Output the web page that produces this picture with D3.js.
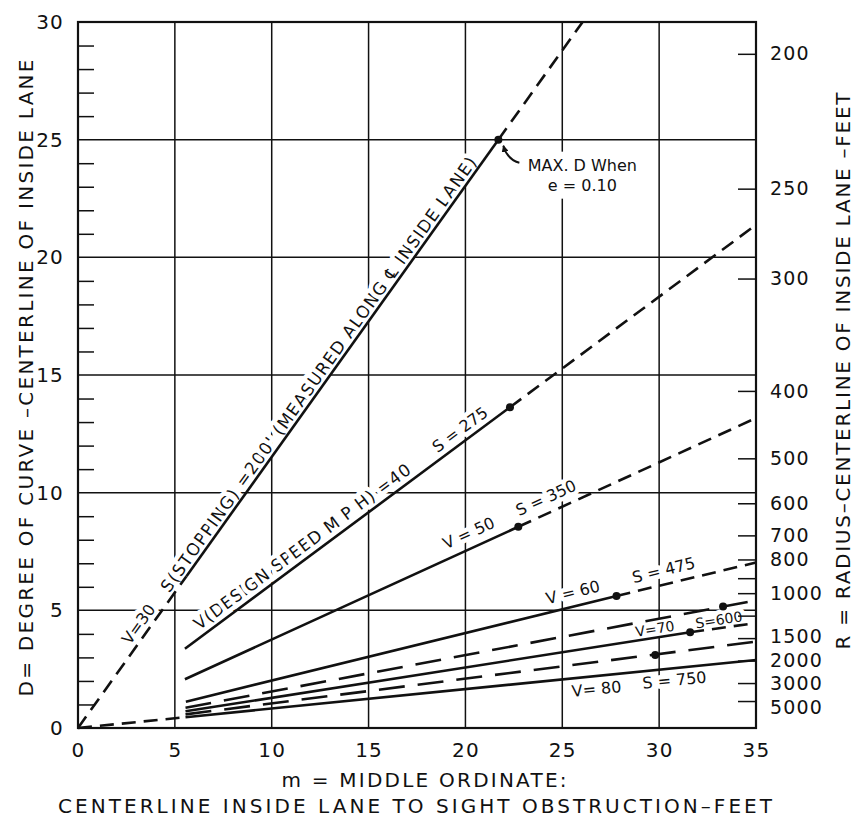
<!DOCTYPE html>
<html>
<head>
<meta charset="utf-8">
<script src="https://cdn.jsdelivr.net/npm/d3@7/dist/d3.min.js"></script>
<style>
  body { margin: 0; background: #fff; }
  svg { display: block; }
</style>
</head>
<body>
<script>
// axis values
const xTicks = [0, 5, 10, 15, 20, 25, 30, 35];
const yTicks = [0, 5, 10, 15, 20, 25, 30];
const yMinorTicks = [1, 2, 3, 4, 6, 7, 8, 9, 11, 12, 13, 14, 16, 17, 18, 19, 21, 22, 23, 24, 26, 27, 28, 29];
const radiusTicks = [200, 250, 300, 400, 500, 600, 700, 800, 900, 1000, 1200, 1500, 2000, 3000, 5000];
const radiusLabels = [200, 250, 300, 400, 500, 600, 700, 800, 1000, 1500, 2000, 3000, 5000];
const degreeRadiusConst = 5729.58; // D = 5729.58 / R

// curves, points are [m, D]
const solidSegments = [
  [[5.6, 6.45], [21.7, 25.0]],   // V=30  S=200
  [[5.52, 3.37], [22.3, 13.63]], // V=40  S=275
  [[5.52, 2.07], [22.73, 8.55]], // V=50  S=350
  [[5.57, 1.12], [27.8, 5.61]],  // V=60  S=475
  [[5.55, 0.71], [31.6, 4.07]],  // V=70  S=600
  [[5.55, 0.46], [35, 2.89]],    // V=80  S=750
];
const shortDashSegments = [
  [[0, 0], [5.6, 6.45]],
  [[21.7, 25.0], [26.05, 30]],
  [[22.3, 13.63], [35, 21.38]],
  [[22.73, 8.55], [35, 13.17]],
  [[27.8, 5.61], [35, 7.03]],
  [[31.6, 4.07], [35, 4.46]],
  [[0, 0], [5.3, 0.44]],
];
const longDashSegments = [
  [[5.55, 0.86], [35, 5.42]],
  [[5.55, 0.58], [35, 3.67]],
];
const maxDPoints = [[21.7, 25.0], [22.3, 13.63], [22.73, 8.55], [27.8, 5.61], [33.3, 5.16], [31.6, 4.07], [29.8, 3.1]];

// labels written along the curves
const labelTexts = [
  "V=30",
  "S(STOPPING) =200' (MEASURED ALONG \u2104 INSIDE LANE)",
  "V(DESIGN SPEED M P H) =40",
  "S = 275",
  "V = 50",
  "S = 350",
  "V = 60",
  "S = 475",
  "V=70",
  "S=600",
  "V= 80",
  "S = 750",
];
const labelAt = [[3.59, 4.14], [12.83, 14.78], [11.94, 7.3], [20.09, 12.27], [20.49, 7.7], [24.48, 9.2],
  [25.72, 5.19], [30.4, 6.13], [29.86, 3.8], [33.15, 4.22], [26.7, 2.21], [30.73, 2.54]];
const labelCurve = [0, 0, 1, 1, 2, 2, 3, 3, 4, 4, 5, 5];
const maxDNote = ["MAX. D When", "e = 0.10"];

// styling of the labels
const labelOffset = [11, 10, 12, 12, 15, 15, 14, 14, 10, 9, -13, -12];
const labelSize = [16, 17, 17, 16, 16, 16, 16, 16, 14, 14, 16, 16];
const labelLength = [null, 530, 265, null, null, null, null, null, null, null, null, null];
const radiusLabelNudge = { 1500: -2, 5000: 6 };

const W = 865, H = 825;
const margin = { top: 22, right: 109, bottom: 97, left: 78 };
const width = W - margin.left - margin.right;
const height = H - margin.top - margin.bottom;
const FONT = "'DejaVu Sans', 'Liberation Sans', sans-serif";
const INK = "#111";

const svg = d3.select("body").append("svg").attr("width", W).attr("height", H);
svg.append("rect").attr("width", W).attr("height", H).attr("fill", "#fff");

const g = svg.append("g").attr("transform", `translate(${margin.left},${margin.top})`);

const x = d3.scaleLinear().domain([0, 35]).range([0, width]);
const y = d3.scaleLinear().domain([0, 30]).range([height, 0]);
// right axis is linear in 1/R
const rInv = d3.scaleLinear().domain([0, 30 / degreeRadiusConst]).range([height, 0]);

// grid
g.append("g")
  .selectAll("line")
  .data(xTicks.filter((v) => v > 0 && v < 35))
  .join("line")
  .attr("x1", (d) => x(d)).attr("x2", (d) => x(d))
  .attr("y1", 0).attr("y2", height)
  .attr("stroke", INK).attr("stroke-width", 1.5);
g.append("g")
  .selectAll("line")
  .data(yTicks.filter((v) => v > 0 && v < 30))
  .join("line")
  .attr("x1", 0).attr("x2", width)
  .attr("y1", (d) => y(d)).attr("y2", (d) => y(d))
  .attr("stroke", INK).attr("stroke-width", 1.5);

const px = (p) => [x(p[0]), y(p[1])];
const angleOf = (seg) => {
  const a = px(seg[0]), b = px(seg[seg.length - 1]);
  return Math.atan2(b[1] - a[1], b[0] - a[0]);
};

// curve labels (white halo cuts the grid like the lettering did)
labelTexts.forEach((t, i) => {
  const ang = angleOf(solidSegments[labelCurve[i]]);
  const [cx, cy] = px(labelAt[i]);
  const off = labelOffset[i];
  const tx = cx + off * Math.sin(ang);
  const ty = cy - off * Math.cos(ang);
  const txt = g.append("text")
    .attr("transform", `translate(${tx},${ty}) rotate(${(ang * 180) / Math.PI})`)
    .attr("text-anchor", "middle")
    .attr("dominant-baseline", "central")
    .attr("font-family", FONT)
    .attr("font-size", labelSize[i])
    .attr("fill", INK)
    .attr("stroke", "#fff")
    .attr("stroke-width", 9)
    .attr("stroke-linejoin", "round")
    .attr("paint-order", "stroke")
    .text(t);
  if (labelLength[i]) txt.attr("textLength", labelLength[i]).attr("lengthAdjust", "spacing");
});

// MAX. D note beside the V=30 end point, on a white patch
const [mx, my] = px(maxDPoints[0]);
const note = g.append("g");
const notePatch = note.append("rect").attr("fill", "#fff");
note.selectAll("text")
  .data(maxDNote)
  .join("text")
  .attr("x", mx + 84)
  .attr("y", (d, i) => my + 31 + i * 20)
  .attr("text-anchor", "middle")
  .attr("font-family", FONT)
  .attr("font-size", 16)
  .attr("fill", INK)
  .text((d) => d);
const nb = note.node().getBBox();
notePatch
  .attr("x", nb.x - 4).attr("y", nb.y - 4)
  .attr("width", nb.width + 8).attr("height", nb.height + 8);

// curves
const line = d3.line().x((d) => x(d[0])).y((d) => y(d[1]));
g.append("g")
  .selectAll("path")
  .data(solidSegments)
  .join("path")
  .attr("d", line)
  .attr("fill", "none").attr("stroke", INK).attr("stroke-width", 2.6);
g.append("g")
  .selectAll("path")
  .data(shortDashSegments)
  .join("path")
  .attr("d", line)
  .attr("fill", "none").attr("stroke", INK).attr("stroke-width", 2.6)
  .attr("stroke-dasharray", "14,8");
g.append("g")
  .selectAll("path")
  .data(longDashSegments)
  .join("path")
  .attr("d", line)
  .attr("fill", "none").attr("stroke", INK).attr("stroke-width", 2.6)
  .attr("stroke-dasharray", "26,13");

g.append("g")
  .selectAll("circle")
  .data(maxDPoints)
  .join("circle")
  .attr("cx", (d) => x(d[0])).attr("cy", (d) => y(d[1]))
  .attr("r", 4).attr("fill", INK);

// little arrow from the note to the point
svg.append("defs").append("marker")
  .attr("id", "head").attr("viewBox", "0 0 10 10")
  .attr("refX", 9).attr("refY", 5)
  .attr("markerWidth", 7).attr("markerHeight", 7)
  .attr("markerUnits", "userSpaceOnUse")
  .attr("orient", "auto")
  .append("path").attr("d", "M0,0 L10,5 L0,10 z").attr("fill", INK);
g.append("path")
  .attr("d", `M${mx + 21},${my + 23} Q${mx + 9},${my + 20} ${mx + 5},${my + 6}`)
  .attr("fill", "none").attr("stroke", INK).attr("stroke-width", 2)
  .attr("marker-end", "url(#head)");

// frame
g.append("rect")
  .attr("width", width).attr("height", height)
  .attr("fill", "none").attr("stroke", INK).attr("stroke-width", 2.2);

// axes
const styleAxis = (sel) => {
  sel.attr("font-family", FONT).attr("font-size", 20).attr("color", INK);
  sel.select(".domain").remove();
  sel.selectAll(".tick line").attr("stroke-width", 1.5);
  sel.selectAll(".tick text").attr("letter-spacing", 1.2);
};

g.append("g")
  .attr("transform", `translate(0,${height})`)
  .call(d3.axisBottom(x).tickValues(xTicks).tickSize(0).tickPadding(15))
  .call(styleAxis);

g.append("g")
  .call(d3.axisLeft(y).tickValues(yTicks).tickSize(0).tickPadding(14))
  .call(styleAxis);

g.append("g")
  .call(d3.axisRight(y).tickValues(yMinorTicks).tickSize(16).tickFormat(""))
  .call(styleAxis);

g.append("g")
  .attr("transform", `translate(${width},0)`)
  .call(
    d3.axisRight(rInv)
      .tickValues(radiusTicks.map((r) => 1 / r))
      .tickSize(-18)
      .tickPadding(14)
      .tickFormat((v) => {
        const r = Math.round(1 / v);
        return radiusLabels.includes(r) ? r : "";
      }),
  )
  .call(styleAxis)
  .call((a) =>
    a.selectAll(".tick text")
      .attr("font-size", 19)
      .attr("y", (v) => radiusLabelNudge[Math.round(1 / v)] || 0),
  );

// axis titles
const title = (tx, ty, rot, len, text) =>
  svg.append("text")
    .attr("transform", `translate(${tx},${ty}) rotate(${rot})`)
    .attr("text-anchor", "middle")
    .attr("dominant-baseline", "central")
    .attr("font-family", FONT)
    .attr("font-size", 20)
    .attr("fill", INK)
    .attr("textLength", len)
    .attr("lengthAdjust", "spacing")
    .text(text);

title(26, 378, -90, 637, "D= DEGREE OF CURVE \u2013CENTERLINE OF INSIDE LANE");
title(843, 371, -90, 557, "R = RADIUS\u2013CENTERLINE OF INSIDE LANE \u2013FEET");
title(424, 780, 0, 285, "m = MIDDLE ORDINATE:");
title(415, 806, 0, 714, "CENTERLINE INSIDE LANE TO SIGHT OBSTRUCTION\u2013FEET");
</script>
</body>
</html>
